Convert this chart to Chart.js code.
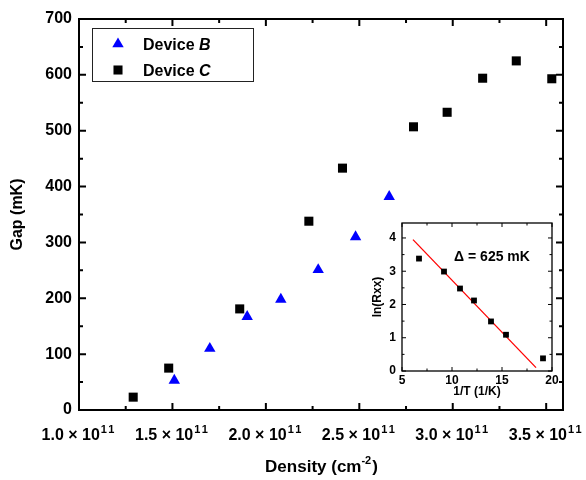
<!DOCTYPE html>
<html>
<head>
<meta charset="utf-8">
<title>Gap vs density</title>
<script src="https://cdn.jsdelivr.net/npm/chart.js@4.4.1/dist/chart.umd.min.js"></script>
<style>
  body { margin: 0; background: #fff; }
  #wrap { position: relative; width: 586px; height: 480px; }
  #mainChart { position: absolute; left: 0; top: 0; }
  #insetChart { position: absolute; left: 360px; top: 205px; }
</style>
</head>
<body>
<div id="wrap">
  <canvas id="mainChart" width="586" height="480"></canvas>
  <canvas id="insetChart" width="205" height="200"></canvas>
</div>
<script>
//density (cm^-2) and gap (mK) per device
const densityB = [1.51e11, 1.70e11, 1.90e11, 2.08e11, 2.28e11, 2.48e11, 2.66e11];
const gapB = [53, 110, 167, 198, 251, 310, 382];
const densityC = [1.29e11, 1.48e11, 1.86e11, 2.23e11, 2.41e11, 2.79e11, 2.97e11, 3.16e11, 3.34e11, 3.53e11];
const gapC = [23, 75, 181, 338, 433, 507, 533, 594, 625, 593];

//axis ticks of the main plot
const densityTicks = [1.0e11, 1.5e11, 2.0e11, 2.5e11, 3.0e11, 3.5e11];
const gapTicks = [0, 100, 200, 300, 400, 500, 600, 700];

//inset: arrhenius plot of device C at the top density
const invT = [6.7, 9.2, 10.8, 12.2, 13.9, 15.4, 19.1];
const lnRxx = [3.38, 2.99, 2.48, 2.12, 1.49, 1.09, 0.38];
const fitInvT = [6.1, 18.4];
const fitLnRxx = [3.95, 0.10];
const gapLabel = '\u0394 = 625 mK';

const FONT = '"Liberation Sans", Arial, sans-serif';

//minor ticks halfway between major ones
function halfSteps(ticks) {
    let out = [];
    for (let i = 0; i < ticks.length - 1; i++) out.push((ticks[i] + ticks[i + 1]) / 2);
    return out;
}

//box around the plot with inward ticks on all four sides
const framePlugin = {
    id: 'frame',
    afterDatasetsDraw(chart, args, opts) {
        const ctx = chart.ctx;
        const a = chart.chartArea;
        const x = chart.scales.x;
        const y = chart.scales.y;
        ctx.save();
        ctx.strokeStyle = '#000';
        ctx.lineWidth = opts.tickWidth;
        ctx.beginPath();
        const xt = (v, len) => {
            const p = x.getPixelForValue(v);
            ctx.moveTo(p, a.bottom); ctx.lineTo(p, a.bottom - len);
            ctx.moveTo(p, a.top); ctx.lineTo(p, a.top + len);
        };
        const yt = (v, len) => {
            const p = y.getPixelForValue(v);
            ctx.moveTo(a.left, p); ctx.lineTo(a.left + len, p);
            ctx.moveTo(a.right, p); ctx.lineTo(a.right - len, p);
        };
        opts.xMajor.forEach(v => xt(v, opts.major));
        halfSteps(opts.xMajor).forEach(v => xt(v, opts.minor));
        opts.yMajor.forEach(v => yt(v, opts.major));
        halfSteps(opts.yMajor).forEach(v => yt(v, opts.minor));
        ctx.stroke();
        ctx.lineWidth = opts.lineWidth;
        ctx.strokeRect(a.left, a.top, a.right - a.left, a.bottom - a.top);
        ctx.restore();
    }
};

//x tick labels and title with superscripts, plus the legend box
const mainTextPlugin = {
    id: 'mainText',
    afterDraw(chart) {
        const ctx = chart.ctx;
        const a = chart.chartArea;
        const x = chart.scales.x;
        ctx.save();
        ctx.fillStyle = '#000';
        ctx.textBaseline = 'alphabetic';
        ctx.textAlign = 'left';

        const tickFont = 'bold 16px ' + FONT;
        const supFont = 'bold 11px ' + FONT;
        densityTicks.forEach(v => {
            const exp = Math.floor(Math.log10(v) + 1e-9);
            const base = (v / Math.pow(10, exp)).toFixed(1) + ' \u00d7 10';
            const sup = String(exp);
            ctx.font = tickFont;
            ctx.letterSpacing = '0px';
            const w1 = ctx.measureText(base).width;
            ctx.font = supFont;
            ctx.letterSpacing = '2px';
            const w2 = ctx.measureText(sup).width;
            let left = x.getPixelForValue(v) - (w1 + w2 + 1) / 2;
            ctx.font = tickFont;
            ctx.letterSpacing = '0px';
            ctx.fillText(base, left, 440);
            ctx.font = supFont;
            ctx.letterSpacing = '2px';
            ctx.fillText(sup, left + w1 + 1, 433);
        });
        ctx.letterSpacing = '0px';

        //axis title
        const big = 'bold 17px ' + FONT;
        const small = 'bold 11px ' + FONT;
        const t1 = 'Density (cm';
        const t2 = '-2';
        const t3 = ')';
        ctx.font = big;
        const a1 = ctx.measureText(t1).width;
        const a3 = ctx.measureText(t3).width;
        ctx.font = small;
        const a2 = ctx.measureText(t2).width;
        let tx = (a.left + a.right) / 2 - (a1 + a2 + a3) / 2;
        ctx.font = big;
        ctx.fillText(t1, tx, 472);
        ctx.font = small;
        ctx.fillText(t2, tx + a1, 464);
        ctx.font = big;
        ctx.fillText(t3, tx + a1 + a2 + 1, 472);

        //legend
        ctx.strokeStyle = '#222';
        ctx.lineWidth = 1;
        ctx.strokeRect(92.5, 28.5, 161, 53);
        const rows = [
            {ds: chart.data.datasets[0], name: 'B', y: 44},
            {ds: chart.data.datasets[1], name: 'C', y: 70}
        ];
        rows.forEach(r => {
            ctx.fillStyle = r.ds.backgroundColor;
            ctx.strokeStyle = r.ds.borderColor;
            Chart.helpers.drawPoint(ctx, {pointStyle: r.ds.pointStyle, radius: r.ds.pointRadius, borderWidth: 0, rotation: 0}, 118, r.y);
            ctx.fillStyle = '#000';
            ctx.font = 'bold 16px ' + FONT;
            const label = 'Device ';
            ctx.fillText(label, 143, r.y + 6);
            const lw = ctx.measureText(label).width;
            ctx.font = 'italic bold 16px ' + FONT;
            ctx.fillText(r.name, 143 + lw, r.y + 6);
        });
        ctx.restore();
    }
};

//main chart
const mainChart = new Chart(document.getElementById('mainChart'), {
    type: 'scatter',
    data: {
        datasets: [{
            label: 'Device B',
            data: densityB.map((d, i) => ({x: d, y: gapB[i]})),
            pointStyle: 'triangle',
            pointRadius: 6.6,
            borderWidth: 0,
            backgroundColor: '#0000ff',
            borderColor: '#0000ff'
        }, {
            label: 'Device C',
            data: densityC.map((d, i) => ({x: d, y: gapC[i]})),
            pointStyle: 'rect',
            pointRadius: 6.4,
            borderWidth: 0,
            backgroundColor: '#000000',
            borderColor: '#000000'
        }]
    },
    options: {
        responsive: false,
        animation: false,
        layout: {padding: {left: 8, top: 19, right: 23, bottom: 0}},
        plugins: {
            legend: {display: false},
            tooltip: {enabled: false},
            frame: {xMajor: densityTicks, yMajor: gapTicks, major: 7, minor: 4, tickWidth: 2, lineWidth: 2}
        },
        scales: {
            x: {
                type: 'linear',
                min: 1.0e11,
                max: 3.59e11,
                grid: {display: false, drawTicks: false},
                border: {display: false},
                ticks: {display: false},
                afterFit: s => { s.height = 70; }
            },
            y: {
                min: 0,
                max: 700,
                grid: {display: false, drawTicks: false},
                border: {display: false},
                afterBuildTicks: s => { s.ticks = gapTicks.map(v => ({value: v})); },
                ticks: {color: '#000', padding: 7, font: {family: FONT, size: 16, weight: 'bold'}},
                title: {display: true, text: 'Gap (mK)', color: '#000', padding: 0, font: {family: FONT, size: 16, weight: 'bold'}},
                afterFit: s => { s.width = 71; }
            }
        }
    },
    plugins: [framePlugin, mainTextPlugin]
});

//gap annotation inside the inset
const insetTextPlugin = {
    id: 'insetText',
    afterDraw(chart) {
        const ctx = chart.ctx;
        ctx.save();
        ctx.fillStyle = '#000';
        ctx.font = 'bold 14px ' + FONT;
        ctx.textAlign = 'center';
        ctx.textBaseline = 'middle';
        ctx.fillText(gapLabel, chart.scales.x.getPixelForValue(14.0), chart.scales.y.getPixelForValue(3.42));
        ctx.restore();
    }
};

//inset chart
const insetXTicks = [5, 10, 15, 20];
const insetYTicks = [0, 1, 2, 3, 4];
const insetFont = {family: FONT, size: 12, weight: 'bold'};
const insetChart = new Chart(document.getElementById('insetChart'), {
    type: 'scatter',
    data: {
        datasets: [{
            label: 'data',
            data: invT.map((v, i) => ({x: v, y: lnRxx[i]})),
            pointStyle: 'rect',
            pointRadius: 4.1,
            borderWidth: 0,
            backgroundColor: '#000000'
        }, {
            type: 'line',
            label: 'fit',
            data: fitInvT.map((v, i) => ({x: v, y: fitLnRxx[i]})),
            borderColor: '#ff0000',
            borderWidth: 1.3,
            pointRadius: 0,
            fill: false
        }]
    },
    options: {
        responsive: false,
        animation: false,
        layout: {padding: {left: 0, top: 18, right: 13, bottom: 0}},
        plugins: {
            legend: {display: false},
            tooltip: {enabled: false},
            frame: {xMajor: insetXTicks, yMajor: insetYTicks, major: 4, minor: 2.5, tickWidth: 1, lineWidth: 1.3}
        },
        scales: {
            x: {
                type: 'linear',
                min: 5,
                max: 20,
                grid: {display: false, drawTicks: false},
                border: {display: false},
                afterBuildTicks: s => { s.ticks = insetXTicks.map(v => ({value: v})); },
                ticks: {color: '#000', padding: 2, font: insetFont},
                title: {display: true, text: '1/T (1/K)', color: '#000', padding: {top: 0, bottom: 6}, font: insetFont},
                afterFit: s => { s.height = 34; }
            },
            y: {
                min: 0,
                max: 4.45,
                grid: {display: false, drawTicks: false},
                border: {display: false},
                afterBuildTicks: s => { s.ticks = insetYTicks.map(v => ({value: v})); },
                ticks: {color: '#000', padding: 6, font: insetFont},
                title: {display: true, text: 'ln(Rxx)', color: '#000', padding: {top: 10, bottom: 0}, font: insetFont},
                afterFit: s => { s.width = 42; }
            }
        }
    },
    plugins: [framePlugin, insetTextPlugin]
});
</script>
</body>
</html>
